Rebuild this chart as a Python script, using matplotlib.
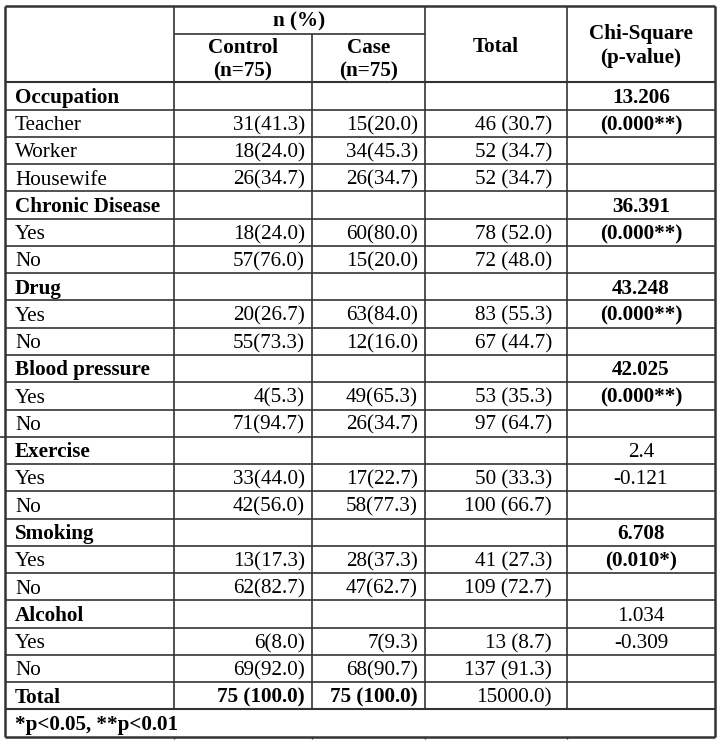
import matplotlib.pyplot as plt

# table content
variables = ["Occupation", "Chronic Disease", "Drug", "Blood pressure",
             "Exercise", "Smoking", "Alcohol"]
levels = [["Teacher", "Worker", "Housewife"], ["Yes", "No"], ["Yes", "No"],
          ["Yes", "No"], ["Yes", "No"], ["Yes", "No"], ["Yes", "No"]]
control = [["31(41.3)", "18(24.0)", "26(34.7)"], ["18(24.0)", "57(76.0)"],
           ["20(26.7)", "55(73.3)"], ["4(5.3)", "71(94.7)"],
           ["33(44.0)", "42(56.0)"], ["13(17.3)", "62(82.7)"],
           ["6(8.0)", "69(92.0)"]]
case = [["15(20.0)", "34(45.3)", "26(34.7)"], ["60(80.0)", "15(20.0)"],
        ["63(84.0)", "12(16.0)"], ["49(65.3)", "26(34.7)"],
        ["17(22.7)", "58(77.3)"], ["28(37.3)", "47(62.7)"],
        ["7(9.3)", "68(90.7)"]]
total = [["46 (30.7)", "52 (34.7)", "52 (34.7)"], ["78 (52.0)", "72 (48.0)"],
         ["83 (55.3)", "67 (44.7)"], ["53 (35.3)", "97 (64.7)"],
         ["50 (33.3)", "100 (66.7)"], ["41 (27.3)", "109 (72.7)"],
         ["13 (8.7)", "137 (91.3)"]]
chi_stat = ["13.206", "36.391", "43.248", "42.025", "2.4", "6.708", "1.034"]
chi_p = ["(0.000**)", "(0.000**)", "(0.000**)", "(0.000**)", "-0.121",
         "(0.010*)", "-0.309"]
chi_bold = [True, True, True, True, False, True, False]
total_row = ["Total", "75 (100.0)", "75 (100.0)", "15000.0)"]
footnote = "*p<0.05, **p<0.01"

W, H = 728, 745
fig = plt.figure(figsize=(W / 100, H / 100), dpi=100)
ax = fig.add_axes([0, 0, 1, 1])
ax.set_xlim(0, W)
ax.set_ylim(H, 0)
ax.axis("off")

plt.rcParams['font.family'] = ['Liberation Serif', 'DejaVu Serif']
fs = 15.2
lc = "#333333"

# grid geometry (pixels)
x0, x1, x2, x3, x4, x5 = 5, 174, 312, 425, 567, 715
y_top, y_mid, y_head = 6, 34.3, 82.3
y_bot = 736.7
n_rows = sum(1 + len(l) for l in levels) + 2
rh = (y_bot - y_head) / n_rows
base = 6.8  # baseline offset below row centre


def hline(y, xa, xb, lw=1.2):
    ax.plot([xa, xb], [y, y], color=lc, lw=lw, solid_capstyle="butt")


def vline(x, ya, yb, lw=1.2):
    ax.plot([x, x], [ya, yb], color=lc, lw=lw, solid_capstyle="butt")


def put(x, y, s, ha="left", bold=False):
    ax.text(x, y, s, ha=ha, va="baseline", fontsize=fs,
            fontweight="bold" if bold else "normal", color="black")


# header
hline(y_top, x0, x5, 1.8)
hline(y_mid, x1, x3)
hline(y_head, x0, x5, 1.5)
put((x1 + x3) / 2, 26.5, "n (%)", ha="center", bold=True)
put((x1 + x2) / 2, 53.3, "Control", ha="center", bold=True)
put((x1 + x2) / 2, 76.5, "(n=75)", ha="center", bold=True)
put((x2 + x3) / 2, 53.3, "Case", ha="center", bold=True)
put((x2 + x3) / 2, 76.5, "(n=75)", ha="center", bold=True)
put((x3 + x4) / 2, 52.3, "Total", ha="center", bold=True)
put((x4 + x5) / 2, 39.3, "Chi-Square", ha="center", bold=True)
put((x4 + x5) / 2, 62.5, "(p-value)", ha="center", bold=True)

# body
r = 0
for i, var in enumerate(variables):
    yb = y_head + (r + 0.5) * rh + base
    put(x0 + 10, yb, var, bold=True)
    put((x4 + x5) / 2, yb, chi_stat[i], ha="center", bold=chi_bold[i])
    r += 1
    hline(y_head + r * rh, x0, x5)
    for j, lev in enumerate(levels[i]):
        yb = y_head + (r + 0.5) * rh + base
        put(x0 + 10, yb, lev)
        put(x2 - 7, yb, control[i][j], ha="right")
        put(x3 - 7, yb, case[i][j], ha="right")
        put(x4 - 15, yb, total[i][j], ha="right")
        if j == 0:
            put((x4 + x5) / 2, yb, chi_p[i], ha="center", bold=chi_bold[i])
        r += 1
        hline(y_head + r * rh, x0, x5)
    if var == "Blood pressure":
        # small stray rule left of the table
        hline(y_head + r * rh, 0, x0)

# total row
yb = y_head + (r + 0.5) * rh + base
put(x0 + 10, yb, total_row[0], bold=True)
put(x2 - 7, yb, total_row[1], ha="right", bold=True)
put(x3 - 7, yb, total_row[2], ha="right", bold=True)
put(x4 - 15, yb, total_row[3], ha="right")
r += 1
hline(y_head + r * rh, x0, x5, 1.5)
y_foot = y_head + r * rh
put(x0 + 10, y_foot + rh / 2 + base, footnote, bold=True)
hline(y_bot, x0, x5, 1.8)

# vertical rules
vline(x0, y_top, y_bot, 1.8)
vline(x5, y_top, y_bot, 1.8)
vline(x1, y_top, y_foot)
vline(x2, y_mid, y_foot)
vline(x3, y_top, y_foot)
vline(x4, y_top, y_foot)
for xx in (x1, x2, x3, x4):
    vline(xx, y_bot, y_bot + 2, 1.0)

fig.savefig("out.png", dpi=100, facecolor="white")
